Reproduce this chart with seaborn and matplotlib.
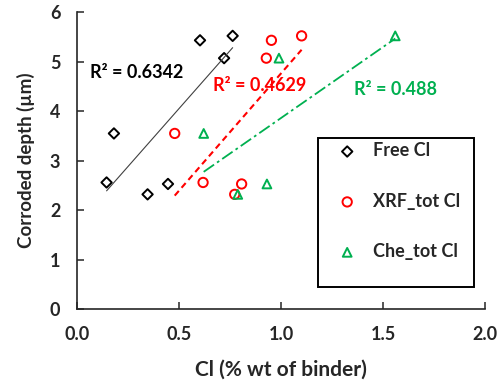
import numpy as np
import pandas as pd
import matplotlib
matplotlib.use("Agg")
import matplotlib.pyplot as plt
import matplotlib.patches as mpatches
import seaborn as sns

sns.set_style("ticks")
plt.rcParams["font.family"] = ["Lato", "DejaVu Sans"]
plt.rcParams["font.weight"] = "bold"

# data
free_x = [0.145, 0.181, 0.346, 0.446, 0.603, 0.721, 0.763]
free_y = [2.56, 3.55, 2.32, 2.53, 5.43, 5.07, 5.52]
xrf_x = [0.479, 0.618, 0.773, 0.807, 0.953, 0.928, 1.101]
xrf_y = [3.55, 2.56, 2.32, 2.53, 5.43, 5.07, 5.52]
che_x = [0.621, 0.788, 0.931, 0.990, 1.560]
che_y = [3.55, 2.32, 2.53, 5.07, 5.52]
r2_labels = ["R² = 0.6342", "R² = 0.4629", "R² = 0.488"]

black = "black"
red = "#FF0000"
green = "#00B050"

fig = plt.figure(figsize=(5, 3.9), dpi=100)
ax = fig.add_axes([0.154, 0.207, 0.816, 0.762])

# trend lines
sns.regplot(x=free_x, y=free_y, scatter=False, ci=None, ax=ax,
            line_kws=dict(color="#404040", lw=0.8, ls="-"))
sns.regplot(x=xrf_x, y=xrf_y, scatter=False, ci=None, ax=ax,
            line_kws=dict(color=red, lw=1.5, ls=(0, (3, 2))))
sns.regplot(x=che_x, y=che_y, scatter=False, ci=None, ax=ax,
            line_kws=dict(color=green, lw=1.3, ls=(0, (7, 2, 1.5, 2))))

# points
sns.scatterplot(x=free_x, y=free_y, marker="D", s=28, facecolor="none",
                edgecolor=black, linewidth=1.4, label="Free Cl", ax=ax)
sns.scatterplot(x=xrf_x, y=xrf_y, marker="o", s=45, facecolor="none",
                edgecolor=red, linewidth=1.4, label="XRF_tot Cl", ax=ax)
sns.scatterplot(x=che_x, y=che_y, marker="^", s=40, facecolor="none",
                edgecolor=green, linewidth=1.4, label="Che_tot Cl", ax=ax)

ax.text(0.064, 4.78, r2_labels[0], color=black, fontsize=13, fontweight="bold", va="center")
ax.text(0.667, 4.51, r2_labels[1], color=red, fontsize=13, fontweight="bold", va="center")
ax.text(1.358, 4.44, r2_labels[2], color=green, fontsize=13, fontweight="bold", va="center")

ax.set_xlim(0, 2.0)
ax.set_ylim(0, 6)
ax.set_xticks([0.0, 0.5, 1.0, 1.5, 2.0])
ax.set_xticklabels(["0.0", "0.5", "1.0", "1.5", "2.0"])
ax.set_yticks(range(7))
ax.tick_params(direction="in", length=5, width=1.1, labelsize=13)
ax.tick_params(axis="x", pad=12)
ax.tick_params(axis="y", pad=12)
for s in ["left", "bottom"]:
    ax.spines[s].set_linewidth(1.2)
sns.despine(ax=ax)

ax.set_xlabel("Cl (% wt of binder)", fontsize=15, fontweight="bold", labelpad=12)
ax.set_ylabel("Corroded depth (µm)", fontsize=13.5, fontweight="bold", labelpad=11)

# legend: entries without frame, box drawn separately
leg = ax.legend(loc="upper left", bbox_to_anchor=(0.618, 0.562), frameon=False,
                fontsize=13, labelspacing=1.85, borderpad=0, handletextpad=0.45,
                borderaxespad=0)
box = mpatches.Rectangle((0.591, 0.075), 0.382, 0.501, transform=ax.transAxes,
                         fill=False, edgecolor="black", linewidth=1.4, zorder=5)
ax.add_patch(box)

fig.savefig("out.png", dpi=100)
